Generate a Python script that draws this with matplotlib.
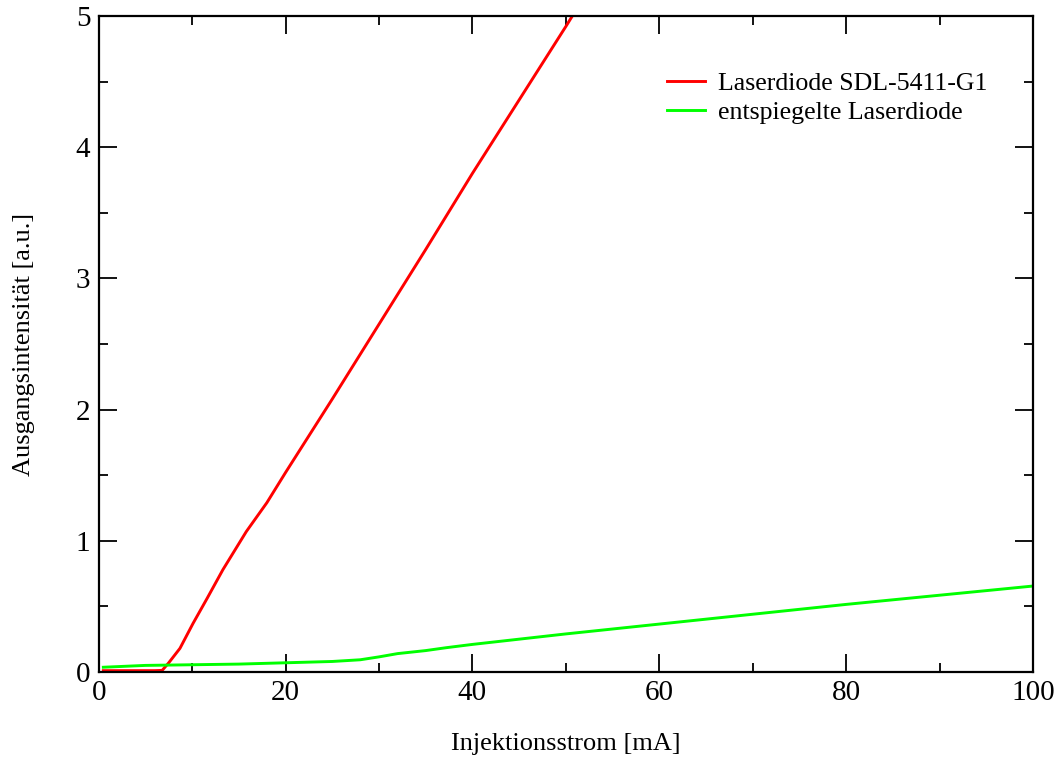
import numpy as np
import matplotlib
matplotlib.use('Agg')
import matplotlib.pyplot as plt
from matplotlib.ticker import MultipleLocator

# Laserdiode SDL-5411-G1
strom_sdl = [0.5, 2, 4, 6, 6.8, 7.5, 8.7, 10.1, 11.6, 13.3, 15.8, 18, 20,
             25, 30, 35, 40, 45, 50, 52]
int_sdl = [0.01, 0.01, 0.01, 0.01, 0.012, 0.07, 0.18, 0.37, 0.56, 0.78, 1.07,
           1.29, 1.52, 2.08, 2.65, 3.22, 3.80, 4.36, 4.92, 5.15]

# entspiegelte Laserdiode
strom_ar = [0.5, 5, 10, 15, 20, 25, 28, 30, 32, 35, 37.2, 40, 45, 50, 60,
            70, 80, 90, 100]
int_ar = [0.036, 0.05, 0.055, 0.06, 0.07, 0.08, 0.093, 0.115, 0.14, 0.163,
          0.185, 0.21, 0.25, 0.29, 0.365, 0.44, 0.515, 0.585, 0.655]

plt.rcParams['font.family'] = ['Liberation Serif', 'DejaVu Serif']
plt.rcParams['font.size'] = 19

fig = plt.figure(figsize=(10.62, 7.58), dpi=100)
ax = fig.add_axes([0.0929, 0.1135, 0.8798, 0.8654])

ax.plot(strom_sdl, int_sdl, color='#ff0000', lw=2.1, label='Laserdiode SDL-5411-G1')
ax.plot(strom_ar, int_ar, color='#00ff00', lw=2.1, label='entspiegelte Laserdiode')

ax.set_xlim(0, 100)
ax.set_ylim(0, 5)
ax.xaxis.set_major_locator(MultipleLocator(20))
ax.xaxis.set_minor_locator(MultipleLocator(10))
ax.yaxis.set_major_locator(MultipleLocator(1))
ax.yaxis.set_minor_locator(MultipleLocator(0.5))
ax.tick_params(which='both', direction='in', top=True, right=True, width=1.3)
ax.tick_params(which='major', length=13, pad=6, labelsize=21)
ax.tick_params(which='minor', length=6.5)
for s in ax.spines.values():
    s.set_linewidth(1.6)

ax.set_xlabel('Injektionsstrom [mA]', fontsize=19, labelpad=19)
ax.set_ylabel('Ausgangsintensität [a.u.]', fontsize=19, labelpad=29)

ax.legend(loc='upper left', bbox_to_anchor=(0.608, 0.915), frameon=False,
          borderaxespad=0, borderpad=0, handlelength=1.5, handletextpad=0.5,
          labelspacing=0.25, fontsize=18.6)

fig.savefig('out.png', dpi=100)
